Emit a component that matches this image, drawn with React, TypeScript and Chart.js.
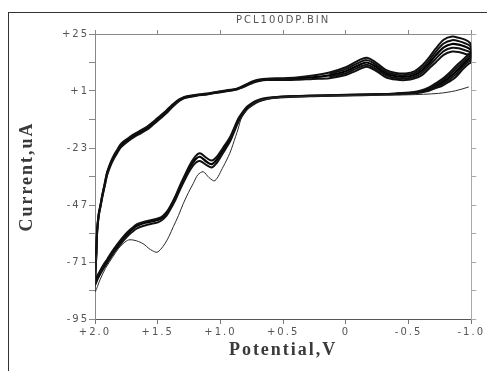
import React, { useEffect, useRef } from 'react';
import { Chart, registerables } from 'chart.js';

Chart.register(...registerables);

// Axis ticks
const xTickValues = [2, 1.5, 1, 0.5, 0, -0.5, -1];
const xTickLabels = ['+2.0', '+1.5', '+1.0', '+0.5', '0', '-0.5', '-1.0'];
const yTickValues = [25, 1, -23, -47, -71, -95];
const yTickLabels = ['+25', '+1', '-23', '-47', '-71', '-95'];

// Repeated cycles (potential, V) : lower branch -1.0 -> +2.0, then upper branch +2.0 -> -1.0
const loopV = [
  -1.0, -0.98, -0.93, -0.875, -0.82, -0.768, -0.715, -0.663, -0.6, -0.528,
  -0.4, -0.266, 0.0, 0.263, 0.45, 0.581, 0.66, 0.713, 0.76, 0.792,
  0.83, 0.859, 0.898, 0.925, 0.978, 1.03, 1.07, 1.11, 1.163, 1.2,
  1.242, 1.28, 1.321, 1.36, 1.401, 1.427, 1.46, 1.494, 1.53, 1.6,
  1.665, 1.705, 1.744, 1.784, 1.824, 1.864, 1.9, 1.943, 1.975, 2.0,
  1.99, 1.983, 1.97, 1.955, 1.943, 1.92, 1.903, 1.875, 1.851, 1.82,
  1.798, 1.771, 1.72, 1.692, 1.639, 1.586, 1.546, 1.506, 1.466, 1.427,
  1.39, 1.348, 1.31, 1.268, 1.19, 1.11, 1.057, 0.96, 0.871, 0.845,
  0.79, 0.74, 0.69, 0.633, 0.5, 0.395, 0.263, 0.131, 0.0, -0.08,
  -0.165, -0.24, -0.319, -0.4, -0.478, -0.55, -0.61, -0.66, -0.716, -0.78,
  -0.848, -0.9, -0.954, -0.994, -1.0, -1.0,
];

// Current (uA), middle of the bundle of cycles
const cycleMidI = [
  15, 14.5, 12, 9, 6.5, 4.6, 3.2, 1.8, 0.8, 0.2,
  -0.2, -0.4, -0.7, -1.0, -1.3, -1.8, -2.5, -3.5, -5.0, -6.3,
  -9.0, -11.5, -16.3, -19.5, -23.8, -28, -29.8, -28.8, -26.7, -27.8,
  -30.9, -34.8, -39.3, -44, -48.2, -50.4, -52.2, -53.2, -53.7, -54.5,
  -55.7, -57.3, -59.2, -61.6, -64.3, -67.2, -70.2, -73.7, -76.8, -79.2,
  -68, -58, -51, -47, -43.5, -37.8, -33.7, -29.6, -26.9, -24.2,
  -22.3, -20.9, -18.9, -17.9, -16.3, -14.7, -13.0, -11.2, -9.4, -7.6,
  -5.6, -3.6, -2.3, -1.5, -0.8, -0.3, 0.2, 1.0, 1.8, 2.3,
  3.6, 4.8, 5.5, 5.9, 6.0, 6.2, 6.8, 7.6, 9.3, 11.3,
  13.0, 11.2, 8.4, 7.2, 7.0, 7.8, 9.8, 12.5, 16.0, 19.4,
  20.8, 20.5, 19.6, 18.5, 17.0, 15,
];

// Upper edge of the bundle
const cycleHighI = [
  16.8, 16.5, 14, 11.3, 8.4, 6.0, 4.2, 2.5, 1.2, 0.5,
  0, -0.3, -0.6, -0.9, -1.2, -1.6, -2.2, -3.1, -4.5, -5.8,
  -8.4, -10.8, -15.5, -18.6, -22.8, -26.8, -28.3, -27.2, -25.2, -26.5,
  -29.9, -34, -38.6, -43.4, -47.6, -49.8, -51.6, -52.6, -53.1, -53.9,
  -55.1, -56.7, -58.6, -61, -63.7, -66.6, -69.6, -73.1, -76.2, -78,
  -67.5, -57.5, -50.5, -46.5, -43, -37.2, -33, -28.9, -26.2, -23.5,
  -21.6, -20.2, -18.3, -17.3, -15.7, -14.1, -12.4, -10.6, -8.8, -7.0,
  -5.1, -3.2, -2.0, -1.2, -0.6, -0.1, 0.4, 1.2, 2.0, 2.5,
  3.9, 5.1, 5.8, 6.2, 6.4, 6.7, 7.5, 8.8, 11.0, 13.3,
  15.0, 13.0, 9.9, 8.6, 8.4, 9.4, 11.8, 14.8, 18.8, 22.6,
  23.9, 23.4, 22.5, 21.0, 19.5, 16.8,
];

// Lower edge of the bundle
const cycleLowI = [
  13.0, 12.5, 10, 6.8, 4.8, 3.2, 2.2, 1.1, 0.4, -0.1,
  -0.4, -0.6, -0.9, -1.2, -1.5, -2.0, -2.8, -3.9, -5.5, -6.9,
  -9.7, -12.3, -17.2, -20.4, -25.0, -29.4, -31.2, -30.2, -28.5, -29.3,
  -32.2, -36, -40.4, -45, -49, -51.3, -53.1, -54.2, -54.7, -55.6,
  -56.8, -58.4, -60.3, -62.7, -65.3, -68.2, -71.2, -74.7, -77.8, -80.5,
  -68.5, -58.5, -51.5, -47.5, -44, -38.4, -34.4, -30.3, -27.6, -24.9,
  -23, -21.6, -19.5, -18.5, -16.9, -15.3, -13.6, -11.8, -10.0, -8.2,
  -6.1, -4.0, -2.6, -1.8, -1.0, -0.5, 0.0, 0.8, 1.6, 2.1,
  3.3, 4.5, 5.2, 5.6, 5.6, 5.7, 6.1, 6.4, 7.7, 9.5,
  11.2, 9.5, 6.8, 5.8, 5.6, 6.3, 7.8, 10.3, 13.0, 16.2,
  17.6, 17.4, 16.6, 16.0, 14.8, 13.0,
];

// Further cycles visible in the anodic peak region (upper branch right part, then back down)
const peakV = [
  0.131, 0.0, -0.08, -0.165, -0.24, -0.319, -0.4, -0.478, -0.55, -0.61,
  -0.66, -0.716, -0.78, -0.848, -0.9, -0.954, -0.994, -1.0, -1.0, -0.98,
  -0.93, -0.875, -0.82, -0.768, -0.715, -0.663,
];
const cyclePeakAI = [
  8.2, 10.2, 12.3, 14.0, 12.1, 9.1, 7.9, 7.7, 8.6, 10.8,
  13.6, 17.4, 21.0, 22.4, 22.0, 21.0, 19.8, 18.3, 15.9, 15.5,
  13, 10.2, 7.5, 5.3, 3.7, 2.1,
];
const cyclePeakBI = [
  7.0, 8.5, 10.4, 12.1, 10.3, 7.6, 6.5, 6.3, 7.0, 8.8,
  11.4, 14.5, 17.8, 19.2, 19.0, 18.1, 17.2, 15.9, 14.0, 13.5,
  11, 7.9, 5.6, 3.9, 2.7, 1.4,
];

// First scan (thin trace)
const firstScanV = [
  -0.98, -0.875, -0.74, -0.5, -0.266, 0.0, 0.263, 0.45, 0.6, 0.68,
  0.73, 0.78, 0.83, 0.859, 0.9, 0.925, 0.978, 1.044, 1.09, 1.137,
  1.18, 1.216, 1.255, 1.295, 1.335, 1.375, 1.41, 1.44, 1.475, 1.506,
  1.54, 1.573, 1.61, 1.652, 1.69, 1.732, 1.77, 1.811, 1.86, 1.917,
  1.96, 2.0, 1.995, 1.99,
];
const firstScanI = [
  2.7, 1.1, 0.0, -0.6, -0.7, -0.9, -1.2, -1.5, -2.1, -2.9,
  -4.2, -6.5, -10, -15, -21.5, -25.2, -30.9, -36.8, -35.5, -33.0,
  -34.3, -37.9, -41.8, -46.3, -51.5, -56.1, -60.2, -63.1, -65.6, -66.9,
  -66.3, -65.2, -63.5, -62.4, -61.8, -61.7, -63.0, -65.2, -69, -73.7,
  -78.5, -83.5, -76, -68,
];

const pts = (xs: number[], ys: number[]) => xs.map((x, i) => ({ x, y: ys[i] }));

const labelFor = (values: number[], labels: string[], v: number) => {
  const i = values.findIndex((t) => Math.abs(t - v) < 1e-6);
  return i >= 0 ? labels[i] : '';
};

const spacingPlugin = {
  id: 'letterSpacing',
  beforeUpdate(chart: any) {
    chart.ctx.letterSpacing = '2px';
  },
  beforeDraw(chart: any) {
    chart.ctx.letterSpacing = '2px';
  },
};

export default function App() {
  const ref = useRef<HTMLCanvasElement>(null);

  useEffect(() => {
    if (!ref.current) return;
    const tickFont = { family: 'DejaVu Sans', size: 10 };
    const serif = { family: 'Liberation Serif', size: 18, weight: 'bold' };
    const gridBase = { display: true, drawOnChartArea: false, drawTicks: true, tickWidth: 1 };
    const lineDs = (data: any, color: string, width: number) => ({
      data,
      showLine: true,
      borderColor: color,
      borderWidth: width,
      pointRadius: 0,
      fill: false,
      tension: 0.3,
    });
    const chart = new Chart(ref.current, {
      type: 'scatter',
      data: {
        datasets: [
          lineDs(pts(firstScanV, firstScanI), '#2a2a2a', 1),
          lineDs(pts(loopV, cycleLowI), '#111', 2),
          lineDs(pts(loopV, cycleHighI), '#111', 2),
          lineDs(pts(peakV, cyclePeakAI), '#111', 2),
          lineDs(pts(peakV, cyclePeakBI), '#111', 2),
          lineDs(pts(loopV, cycleMidI), '#000', 2.2),
        ] as any,
      },
      plugins: [spacingPlugin],
      options: {
        animation: false,
        responsive: false,
        devicePixelRatio: 1,
        layout: { padding: 0 },
        plugins: { legend: { display: false }, tooltip: { enabled: false }, title: { display: false } },
        scales: {
          x: {
            type: 'linear',
            position: 'bottom',
            reverse: true,
            min: -1,
            max: 2,
            afterFit: (s: any) => { s.height = 52; },
            ticks: {
              stepSize: 0.5,
              autoSkip: false,
              maxRotation: 0,
              padding: 2,
              color: '#555',
              font: tickFont,
              callback: (v: any) => labelFor(xTickValues, xTickLabels, Number(v)),
            },
            grid: { ...gridBase, tickLength: 5, tickColor: '#777' },
            border: { display: true, color: '#555', width: 1 },
            title: { display: true, text: 'Potential,V', color: '#3a3a3a', font: serif, padding: { top: 0, bottom: 10 } },
          },
          x2: {
            type: 'linear',
            position: 'top',
            reverse: true,
            min: -1,
            max: 2,
            afterFit: (s: any) => { s.height = 21; },
            ticks: { stepSize: 0.5, display: false },
            grid: { ...gridBase, tickLength: 4, tickColor: '#888' },
            border: { display: true, color: '#888', width: 1 },
            title: {
              display: true,
              text: 'PCL100DP.BIN',
              color: '#555',
              font: { family: 'DejaVu Sans', size: 10 },
              padding: { top: 1.5, bottom: 0 },
            },
          },
          y: {
            type: 'linear',
            position: 'left',
            min: -95,
            max: 25,
            afterFit: (s: any) => { s.width = 86; },
            ticks: {
              stepSize: 12,
              autoSkip: false,
              padding: 0,
              color: '#555',
              font: tickFont,
              callback: (v: any) => labelFor(yTickValues, yTickLabels, Number(v)),
            },
            grid: { ...gridBase, tickLength: 6, tickColor: '#888' },
            border: { display: true, color: '#888', width: 1 },
            title: { display: true, text: 'Current,uA', color: '#3a3a3a', font: serif, padding: { top: 7.5, bottom: 0 } },
          },
          y2: {
            type: 'linear',
            position: 'right',
            min: -95,
            max: 25,
            afterFit: (s: any) => { s.width = 15; },
            ticks: { stepSize: 12, display: false },
            grid: { ...gridBase, tickLength: 5, tickColor: '#aaa' },
            border: { display: true, color: '#aaa', width: 1 },
          },
        },
      } as any,
    });
    return () => chart.destroy();
  }, []);

  return (
    <div
      style={{
        position: 'fixed',
        left: 8,
        top: 12,
        width: 479,
        height: 359,
        borderLeft: '1px solid #333',
        borderTop: '1px solid #333',
        boxSizing: 'border-box',
        background: '#fff',
        overflow: 'hidden',
      }}
    >
      <canvas ref={ref} width={478} height={358} style={{ display: 'block', width: 478, height: 358 }} />
    </div>
  );
}
